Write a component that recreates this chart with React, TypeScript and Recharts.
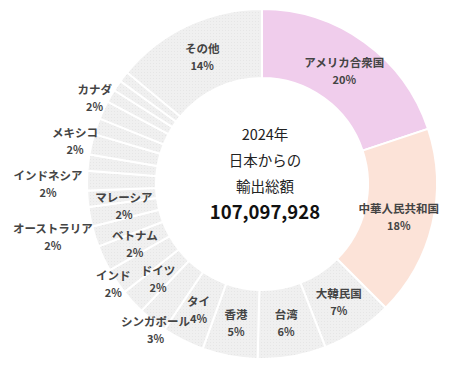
import React from 'react';
import { PieChart, Pie, Cell } from 'recharts';

// ---- data (share of Japan's 2024 exports, %) ----
const countries = [
  'アメリカ合衆国', '中華人民共和国', '大韓民国', '台湾', '香港', 'タイ', 'シンガポール',
  'ドイツ', 'インド', 'ベトナム', 'オーストラリア', 'マレーシア', 'オランダ', 'インドネシア',
  'フィリピン', 'メキシコ', '英国', 'カナダ', 'アラブ首長国連邦', 'フランス', 'ベルギー', 'その他',
];
const shares = [
  19.9, 17.6, 6.6, 6.3, 5.1, 3.9, 2.7,
  2.3, 2.4, 2.4, 1.9, 1.8, 1.5, 1.8,
  1.5, 1.9, 1.5, 1.7, 1.2, 1.0, 1.0, 14.0,
];
const centerLines = ['2024年', '日本からの', '輸出総額'];
const totalLabel = '107,097,928';

const LABEL_MIN = 1.6;

// ---- styling ----
const highlight: Record<string, string> = {
  'アメリカ合衆国': '#f0cdec',
  '中華人民共和国': '#fce3d8',
};
const outsideLabelRadius: Record<string, number> = {
  'シンガポール': 180,
  'インド': 179,
  'オーストラリア': 214,
  'インドネシア': 214,
  'メキシコ': 192,
  'カナダ': 188,
};
// small label nudges (dx, dy) used by the original layout to avoid collisions
const labelNudge: Record<string, [number, number]> = {
  'オーストラリア': [-5, -12],
  'カナダ': [3, -7],
  'マレーシア': [0, -5],
  'インドネシア': [0, 4],
  'シンガポール': [6, 5],
};

const data = countries.map((name, i) => ({ name, value: shares[i] }));

const FONT = '"Noto Sans CJK JP", "Noto Sans", sans-serif';
const RAD = Math.PI / 180;

const renderLabel = (props: any) => {
  const { cx, cy, midAngle, innerRadius, outerRadius, value } = props;
  const name = props.payload?.name ?? props.name;
  if (value < LABEL_MIN) return null;
  const r = outsideLabelRadius[name] ?? (innerRadius + outerRadius) / 2;
  const [dx, dy] = labelNudge[name] ?? [0, 0];
  const x = cx + r * Math.cos(-midAngle * RAD) + dx;
  const y = cy + r * Math.sin(-midAngle * RAD) + dy;
  return (
    <g>
      <text x={x} y={y - 8.5} textAnchor="middle" dominantBaseline="central"
        fontFamily={FONT} fontSize={11.5} fontWeight={700} fill="#444">{name}</text>
      <text x={x} y={y + 8.5} textAnchor="middle" dominantBaseline="central"
        fontFamily={FONT} fontSize={11} fontWeight={700} fill="#444">{Math.round(value)}%</text>
    </g>
  );
};

export default function App() {
  return (
    <div style={{ position: 'relative', width: 461, height: 363, fontFamily: FONT }}>
      <svg width={0} height={0} style={{ position: 'absolute' }}>
        <defs>
          <pattern id="dots" width={3} height={3} patternUnits="userSpaceOnUse">
            <rect width={3} height={3} fill="#f0f0f0" />
            <rect x={1} y={1} width={1} height={1} fill="#e6e6e6" />
          </pattern>
        </defs>
      </svg>
      <PieChart width={461} height={363} margin={{ top: 0, right: 0, bottom: 0, left: 0 }}>
        <Pie
          data={data}
          dataKey="value"
          nameKey="name"
          cx={254}
          cy={176}
          innerRadius={106}
          outerRadius={175}
          startAngle={90}
          endAngle={-270}
          label={renderLabel}
          labelLine={false}
          isAnimationActive={false}
        >
          {data.map((d) => (
            <Cell key={d.name} fill={highlight[d.name] ?? 'url(#dots)'} stroke="#fff" strokeWidth={2} />
          ))}
        </Pie>
      </PieChart>
      {centerLines.map((t, i) => (
        <div key={t} style={{
          position: 'absolute', left: 157, width: 200, top: 126 + i * 26 - 12, height: 24,
          lineHeight: '24px', textAlign: 'center', fontSize: 14.5, color: '#222',
        }}>{t}</div>
      ))}
      <div style={{
        position: 'absolute', left: 157, width: 200, top: 203 - 13, height: 26,
        lineHeight: '26px', textAlign: 'center', fontSize: 18.5, fontWeight: 700, color: '#111',
      }}>{totalLabel}</div>
    </div>
  );
}
